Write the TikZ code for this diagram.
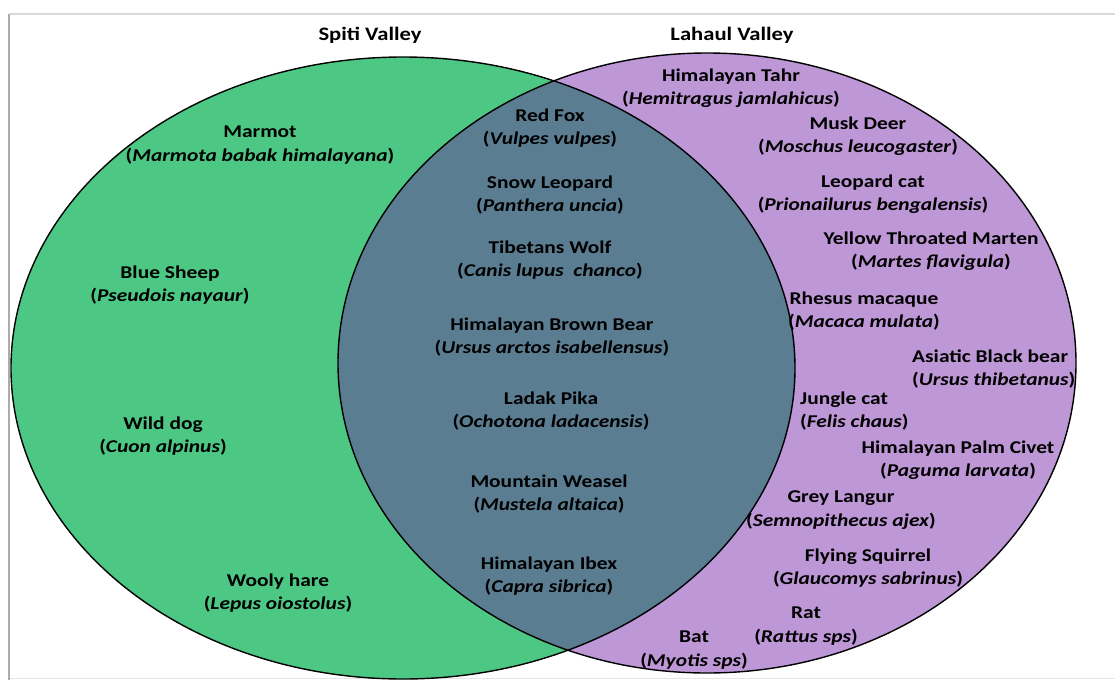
\documentclass[tikz,border=0pt]{standalone}
\usepackage{fontspec}
\setmainfont{Carlito}[FakeStretch=1.19]
\usepackage{tikz}

\definecolor{spiti}{RGB}{76,200,132}
\definecolor{lahaul}{RGB}{190,151,214}
\definecolor{shared}{RGB}{90,125,146}

\newcommand{\sciname}[1]{(\textit{#1})}

\tikzset{
  animal/.style={align=center, inner sep=0pt, font=\bfseries\fontsize{18}{23.5}\selectfont},
  valley/.style={inner sep=0pt, font=\bfseries\fontsize{19}{22}\selectfont},
  rim/.style={line width=1.4pt, black}
}

\begin{document}
\begin{tikzpicture}[x=1pt,y=-1pt]
\useasboundingbox (0,0) rectangle (1115,680);
% frame
\draw[gray!30, line width=1.5pt] (9,14) -- (1115,14);
\draw[gray!20] (9,678) -- (1115,678);
\draw[gray!65, line width=1.2pt] (9,14) -- (9,680);
% the two valleys
\fill[spiti] (403,368) ellipse (392pt and 311pt);
\fill[lahaul] (707,363) ellipse (369pt and 310pt);
\begin{scope}
\clip (403,368) ellipse (392pt and 311pt);
\fill[shared] (707,363) ellipse (369pt and 310pt);
\end{scope}
\draw[rim] (403,368) ellipse (392pt and 311pt);
\draw[rim] (707,363) ellipse (369pt and 310pt);
\node[valley] (spitititle) at (370,35) {Spiti Valley};
\node[valley] (lahaultitle) at (732,35) {Lahaul Valley};
% Spiti only
\node[animal] (marmot) at (260,145) {Marmot\\\sciname{Marmota babak himalayana}};
\node[animal] (bluesheep) at (170,285) {Blue Sheep\\\sciname{Pseudois nayaur}};
\node[animal] (wilddog) at (163,436) {Wild dog\\\sciname{Cuon alpinus}};
\node[animal] (woolyhare) at (278,593) {Wooly hare\\\sciname{Lepus oiostolus}};
% both valleys
\node[animal] (redfox) at (550,128) {Red Fox\\\sciname{Vulpes vulpes}};
\node[animal] (snowleopard) at (550,195) {Snow Leopard\\\sciname{Panthera uncia}};
\node[animal] (wolf) at (550,260) {Tibetans Wolf\\\sciname{Canis lupus~ chanco}};
\node[animal] (brownbear) at (552,337) {Himalayan Brown Bear\\\sciname{Ursus arctos isabellensus}};
\node[animal] (pika) at (551,411) {Ladak Pika\\\sciname{Ochotona ladacensis}};
\node[animal] (weasel) at (549,494) {Mountain Weasel\\\sciname{Mustela altaica}};
\node[animal] (ibex) at (549,576) {Himalayan Ibex\\\sciname{Capra sibrica}};
% Lahaul only
\node[animal] (tahr) at (731,88) {Himalayan Tahr\\\sciname{Hemitragus jamlahicus}};
\node[animal] (muskdeer) at (858,136) {Musk Deer\\\sciname{Moschus leucogaster}};
\node[animal] (leopardcat) at (873,194) {Leopard cat\\\sciname{Prionailurus bengalensis}};
\node[animal] (marten) at (931,251) {Yellow Throated Marten\\\sciname{Martes flavigula}};
\node[animal] (macaque) at (864,311) {Rhesus macaque\\\sciname{Macaca mulata}};
\node[animal, align=left, anchor=west] (blackbear) at (912,369) {Asiatic Black bear\\\sciname{Ursus thibetanus}};
\node[animal, align=left, anchor=west] (junglecat) at (800,411) {Jungle cat\\\sciname{Felis chaus}};
\node[animal] (civet) at (958,460) {Himalayan Palm Civet\\\sciname{Paguma larvata}};
\node[animal] (langur) at (841,510) {Grey Langur\\\sciname{Semnopithecus ajex}};
\node[animal] (squirrel) at (868,568) {Flying Squirrel\\\sciname{Glaucomys sabrinus}};
\node[animal] (rat) at (806,626) {Rat\\\sciname{Rattus sps}};
\node[animal] (bat) at (694,650) {Bat\\\sciname{Myotis sps}};
\end{tikzpicture}
\end{document}
